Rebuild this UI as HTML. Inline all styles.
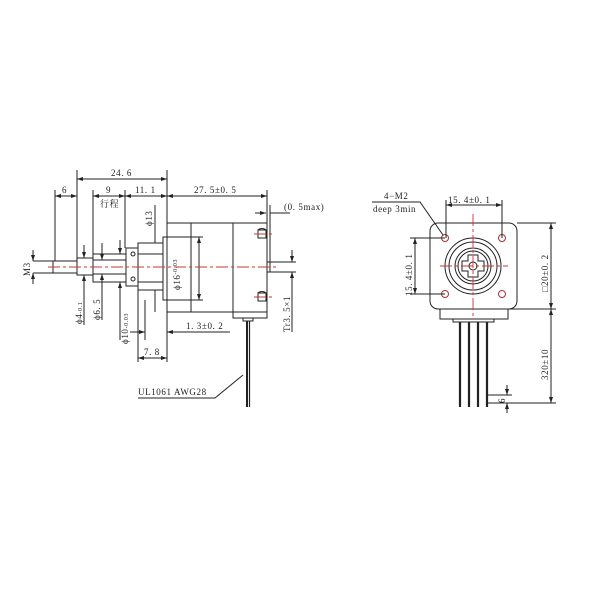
<!DOCTYPE html>
<html><head><style>body{margin:0;background:#fff}svg{display:block}text{font-family:"Liberation Serif","Noto Serif CJK SC",serif;fill:#222}</style></head><body>
<svg width="600" height="600" viewBox="0 0 600 600" xmlns="http://www.w3.org/2000/svg">
<defs><marker id="a" markerWidth="6" markerHeight="4" refX="6" refY="2" orient="auto-start-reverse"><path d="M0,0L6,2L0,4z" fill="#222"/></marker></defs>
<g stroke="#222" stroke-width="1" fill="none">
<rect x="167" y="223" width="100" height="89" fill="#fff"/>
<line x1="191" y1="223" x2="191" y2="312"/><line x1="233" y1="223" x2="233" y2="318"/>
<path d="M233,312V318H267V312"/>
<rect x="243" y="318" width="10" height="3"/>
<rect x="163" y="237" width="4" height="63"/>
<rect x="138" y="243" width="25" height="47"/>
<line x1="138" y1="254" x2="163" y2="254"/><line x1="138" y1="282" x2="163" y2="282"/>
<rect x="126" y="248" width="12" height="38"/>
<circle cx="133" cy="254" r="2"/><circle cx="133" cy="279" r="2"/>
<rect x="93" y="254" width="33" height="28"/>
<line x1="93" y1="260" x2="126" y2="260"/><line x1="93" y1="274" x2="126" y2="274"/>
<rect x="77" y="258" width="16" height="17"/>
<rect x="53" y="261" width="24" height="12"/>
<path d="M258,230a6,6 0 0 1 8,0M258,293a6,6 0 0 1 8,0" />
<rect x="258" y="230" width="8" height="8"/><rect x="258" y="293" width="8" height="8"/>
<rect x="267" y="262" width="3" height="10"/>
<line x1="247" y1="321" x2="247" y2="407" stroke-width="2"/><line x1="249.5" y1="321" x2="249.5" y2="407" stroke-width="1.2"/>
<line x1="77" y1="170" x2="77" y2="258"/><line x1="167" y1="170" x2="167" y2="223"/>
<line x1="55" y1="190" x2="55" y2="261"/><line x1="93" y1="190" x2="93" y2="254"/>
<line x1="125" y1="190" x2="125" y2="248"/><line x1="267" y1="190" x2="267" y2="223"/>
<line x1="77" y1="179" x2="167" y2="179" marker-start="url(#a)" marker-end="url(#a)"/>
<line x1="55" y1="196" x2="77" y2="196" marker-start="url(#a)" marker-end="url(#a)"/>
<line x1="93" y1="196" x2="125" y2="196" marker-start="url(#a)" marker-end="url(#a)"/>
<line x1="125" y1="196" x2="167" y2="196" marker-start="url(#a)" marker-end="url(#a)"/>
<line x1="167" y1="196" x2="267" y2="196" marker-start="url(#a)" marker-end="url(#a)"/>
<line x1="255" y1="213" x2="266" y2="213" marker-end="url(#a)"/><line x1="270" y1="213" x2="290" y2="213"/>
<line x1="270" y1="205" x2="270" y2="262"/>
<line x1="155" y1="205" x2="155" y2="243" /><line x1="155" y1="290" x2="155" y2="312"/>
<line x1="199" y1="237" x2="199" y2="300" marker-start="url(#a)" marker-end="url(#a)"/>
<line x1="163" y1="237" x2="203" y2="237"/><line x1="163" y1="300" x2="203" y2="300"/>
<line x1="33" y1="250" x2="33" y2="261" marker-end="url(#a)"/><line x1="33" y1="284" x2="33" y2="273" marker-end="url(#a)"/>
<line x1="33" y1="261" x2="53" y2="261"/><line x1="33" y1="273" x2="53" y2="273"/>
<line x1="84" y1="245" x2="84" y2="258" marker-end="url(#a)"/><line x1="84" y1="290" x2="84" y2="275" marker-end="url(#a)"/><line x1="84" y1="290" x2="84" y2="325"/>
<line x1="102" y1="243" x2="102" y2="260" marker-end="url(#a)"/><line x1="102" y1="288" x2="102" y2="274" marker-end="url(#a)"/><line x1="102" y1="288" x2="102" y2="320"/>
<line x1="120" y1="240" x2="120" y2="254" marker-end="url(#a)"/><line x1="120" y1="296" x2="120" y2="282" marker-end="url(#a)"/><line x1="120" y1="296" x2="120" y2="340"/>
<line x1="145" y1="300" x2="145" y2="340"/><line x1="138" y1="290" x2="138" y2="362"/><line x1="167" y1="312" x2="167" y2="362"/>
<line x1="130" y1="332" x2="145" y2="332" marker-end="url(#a)"/><line x1="182" y1="332" x2="167" y2="332" marker-end="url(#a)"/><line x1="182" y1="332" x2="230" y2="332"/>
<line x1="138" y1="358" x2="167" y2="358" marker-start="url(#a)" marker-end="url(#a)"/>
<line x1="292" y1="250" x2="292" y2="262" marker-end="url(#a)"/><line x1="292" y1="285" x2="292" y2="272" marker-end="url(#a)"/><line x1="292" y1="285" x2="292" y2="332"/>
<line x1="270" y1="262" x2="296" y2="262"/><line x1="270" y1="272" x2="296" y2="272"/>
<path d="M138,398H215L243,375"/>
<rect x="430" y="223" width="87" height="86" rx="8" fill="#fff"/>
<rect x="440" y="309" width="68" height="10"/>
<rect x="453" y="319" width="41" height="3"/>
<circle cx="473" cy="266" r="28"/><circle cx="473" cy="266" r="24"/><circle cx="473" cy="266" r="18"/><circle cx="473" cy="266" r="15"/>
<path d="M468,255h10v6h6v10h-6v6h-10v-6h-6v-10h6z"/>
<circle cx="473" cy="266" r="4"/>
<g stroke="#a33"><circle cx="445" cy="238" r="3.5"/><circle cx="502" cy="238" r="3.5"/><circle cx="445" cy="294" r="3.5"/><circle cx="502" cy="294" r="3.5"/></g>
<g stroke-width="2.2"><line x1="460" y1="322" x2="460" y2="407"/><line x1="469" y1="322" x2="469" y2="407"/><line x1="478" y1="322" x2="478" y2="407"/><line x1="487" y1="322" x2="487" y2="407"/></g>
<line x1="446" y1="200" x2="446" y2="238"/><line x1="502" y1="200" x2="502" y2="238"/>
<line x1="446" y1="205" x2="502" y2="205" marker-start="url(#a)" marker-end="url(#a)"/>
<line x1="410" y1="238" x2="445" y2="238"/><line x1="410" y1="294" x2="445" y2="294"/>
<line x1="415" y1="238" x2="415" y2="294" marker-start="url(#a)" marker-end="url(#a)"/>
<line x1="517" y1="223" x2="556" y2="223"/><line x1="508" y1="309" x2="556" y2="309"/><line x1="487" y1="403" x2="556" y2="403"/>
<line x1="551" y1="223" x2="551" y2="309" marker-start="url(#a)" marker-end="url(#a)"/>
<line x1="551" y1="309" x2="551" y2="403" marker-start="url(#a)" marker-end="url(#a)"/>
<line x1="487" y1="395" x2="512" y2="395"/>
<line x1="507" y1="385" x2="507" y2="395" marker-end="url(#a)"/><line x1="507" y1="413" x2="507" y2="403" marker-end="url(#a)"/>
<path d="M372,202H420L443,235"/>
</g>
<g stroke="#c33" stroke-width="0.9" stroke-dasharray="12,3,3,3">
<line x1="48" y1="267" x2="278" y2="267"/>
<line x1="440" y1="266" x2="508" y2="266"/><line x1="473" y1="214" x2="473" y2="318"/>
<line x1="254" y1="234" x2="272" y2="234"/><line x1="254" y1="297" x2="272" y2="297"/>
</g>
<g font-size="9" letter-spacing="0.6">
<text x="111" y="176">24. 6</text>
<text x="62" y="193">6</text><text x="106" y="193">9</text><text x="135" y="193">11. 1</text>
<text x="194" y="193">27. 5±0. 5</text>
<text x="100" y="207">行程</text>
<text x="284" y="210">(0. 5max)</text>
<text x="186" y="329">1. 3±0. 2</text>
<text x="144" y="355">7. 8</text>
<text x="138" y="395">UL1061 AWG28</text>
<text transform="translate(152,226) rotate(-90)">ϕ13</text>
<text transform="translate(180,290) rotate(-90)">ϕ16<tspan font-size="6" dy="-3">-0.03</tspan></text>
<text transform="translate(30,276) rotate(-90)">M3</text>
<text transform="translate(82,324) rotate(-90)">ϕ4<tspan font-size="6">-0.1</tspan></text>
<text transform="translate(100,320) rotate(-90)">ϕ6. 5</text>
<text transform="translate(128,344) rotate(-90)">ϕ10<tspan font-size="6">-0.03</tspan></text>
<text transform="translate(290,332) rotate(-90)">Tr3. 5×1</text>
<text x="384" y="199">4−M2</text><text x="373" y="212">deep 3min</text>
<text x="448" y="203">15. 4±0. 1</text>
<text transform="translate(412,296) rotate(-90)">15. 4±0. 1</text>
<text transform="translate(548,292) rotate(-90)">□20±0. 2</text>
<text transform="translate(548,380) rotate(-90)">320±10</text>
<text transform="translate(505,403) rotate(-90)">6</text>
</g>
</svg>
</body></html>
